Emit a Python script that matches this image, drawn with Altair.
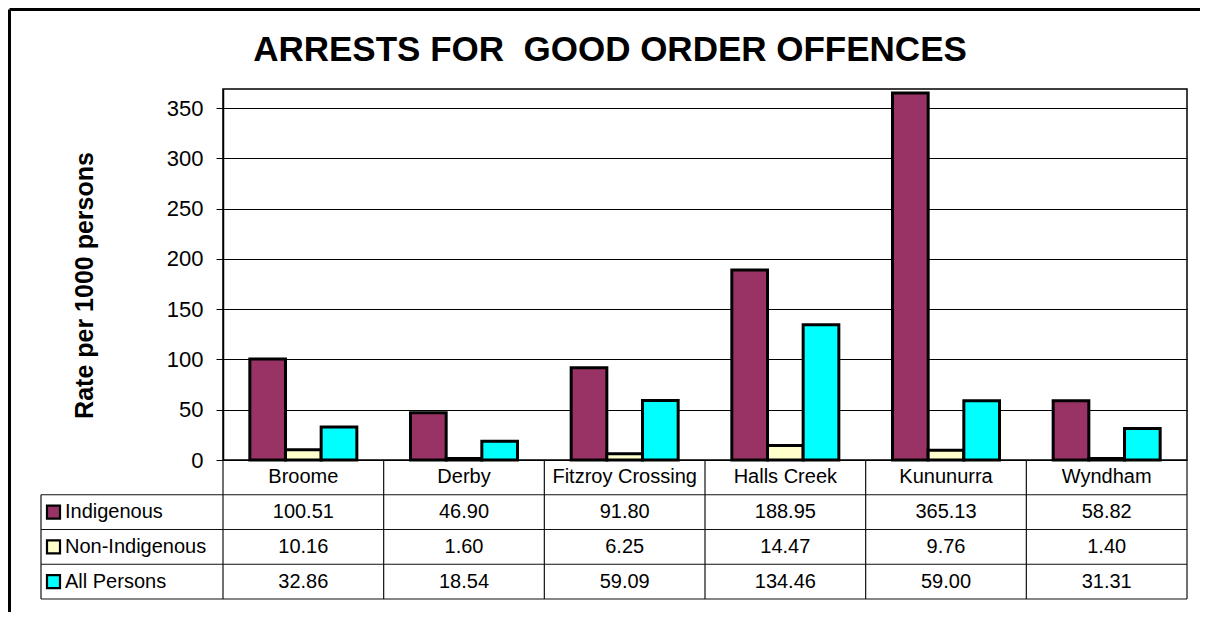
import altair as alt
import pandas as pd

categories = ["Broome", "Derby", "Fitzroy Crossing", "Halls Creek", "Kununurra", "Wyndham"]
series = ["Indigenous", "Non-Indigenous", "All Persons"]
indigenous = [100.51, 46.90, 91.80, 188.95, 365.13, 58.82]
non_indigenous = [10.16, 1.60, 6.25, 14.47, 9.76, 1.40]
all_persons = [32.86, 18.54, 59.09, 134.46, 59.00, 31.31]
colors = ["#993366", "#FFFFCC", "#00FFFF"]
y_ticks = [0, 50, 100, 150, 200, 250, 300, 350]
title_text = "ARRESTS FOR \u00a0GOOD ORDER OFFENCES"
y_title = "Rate per 1000 persons"

FONT = "Liberation Sans"
W, H = 964, 371
ROW_H = 34.75
TBL_H = ROW_H * 4
LABEL_LEFT = -182

rows = []
for i, (s, vals) in enumerate(zip(series, [indigenous, non_indigenous, all_persons])):
    for c, v in zip(categories, vals):
        rows.append({"Category": c, "Series": s, "Value": v, "Row": i + 1.5})
df = pd.DataFrame(rows)
cat_df = pd.DataFrame({"Category": categories, "Row": [0.5] * len(categories)})
lab_df = pd.DataFrame({"Series": series, "Row": [i + 1.5 for i in range(len(series))]})

x_enc = alt.X("Category:N", sort=categories, axis=None,
              scale=alt.Scale(paddingInner=0.334, paddingOuter=0.167))
row_y = alt.Y("Row:Q", axis=None, scale=alt.Scale(domain=[0, 4], range=[H, H + TBL_H]))
color_enc = alt.Color("Series:N", sort=series,
                      scale=alt.Scale(domain=series, range=colors), legend=None)

bars = alt.Chart(df).mark_bar(stroke="black", strokeWidth=3).encode(
    x=x_enc,
    xOffset=alt.XOffset("Series:N", sort=series),
    y=alt.Y("Value:Q", scale=alt.Scale(domain=[0, 369], nice=False),
            axis=alt.Axis(values=y_ticks, title=y_title, titleFont=FONT, titleFontSize=25,
                          titleFontWeight="bold", titleColor="black", titleX=-139, titleY=196,
                          titleBaseline="middle", titleAlign="center",
                          labelFont=FONT, labelFontSize=22, labelColor="black",
                          labelPadding=13, tickSize=7, tickColor="black",
                          domainColor="black", domainWidth=1.5,
                          grid=True, gridColor="black", gridWidth=1)),
    color=color_enc,
)

values_txt = alt.Chart(df).mark_text(font=FONT, fontSize=20, color="black", baseline="middle").encode(
    x=x_enc, y=row_y, text=alt.Text("Value:Q", format=".2f"))
cats_txt = alt.Chart(cat_df).mark_text(font=FONT, fontSize=20, color="black", baseline="middle").encode(
    x=x_enc, y=row_y, text="Category:N")
labels_txt = alt.Chart(lab_df).mark_text(font=FONT, fontSize=20, color="black", align="left",
                                         baseline="middle").encode(
    x=alt.value(-158), y=row_y, text="Series:N")
swatches = alt.Chart(lab_df).mark_square(size=169, stroke="black", strokeWidth=2.2, opacity=1).encode(
    x=alt.value(-169.5), y=row_y, color=color_enc)

one = alt.Data(values=[{}])
def rule(x1, x2, y1, y2, w=1.2, c="#111111"):
    return alt.Chart(one).mark_rule(color=c, strokeWidth=w).encode(
        x=alt.value(x1), x2=alt.value(x2), y=alt.value(y1), y2=alt.value(y2))

grid_layers = []
for k in range(1, 5):
    yy = H + ROW_H * k
    grid_layers.append(rule(LABEL_LEFT, W, yy, yy))
grid_layers.append(rule(LABEL_LEFT, LABEL_LEFT, H + ROW_H, H + TBL_H))
for k in range(0, 7):
    xx = W * k / 6
    grid_layers.append(rule(xx, xx, H, H + TBL_H))

frame = [rule(-213.5, -213.5, -79.5, 523, w=3, c="black"),
         rule(-213.5, 977, -79.5, -79.5, w=3, c="black")]

title = alt.Chart(one).mark_text(font=FONT, fontSize=35, fontWeight="bold", color="black",
                                 align="center", baseline="alphabetic").encode(
    x=alt.value(387), y=alt.value(-28), text=alt.value(title_text))

chart = alt.layer(bars, values_txt, cats_txt, labels_txt, swatches, *grid_layers, *frame, title).resolve_scale(
    y="independent"
).properties(width=W, height=H, padding=0, background="white").configure_view(
    stroke="black", strokeWidth=1.5)

chart.save("out.html", embed_options={"renderer": "svg", "actions": False})
